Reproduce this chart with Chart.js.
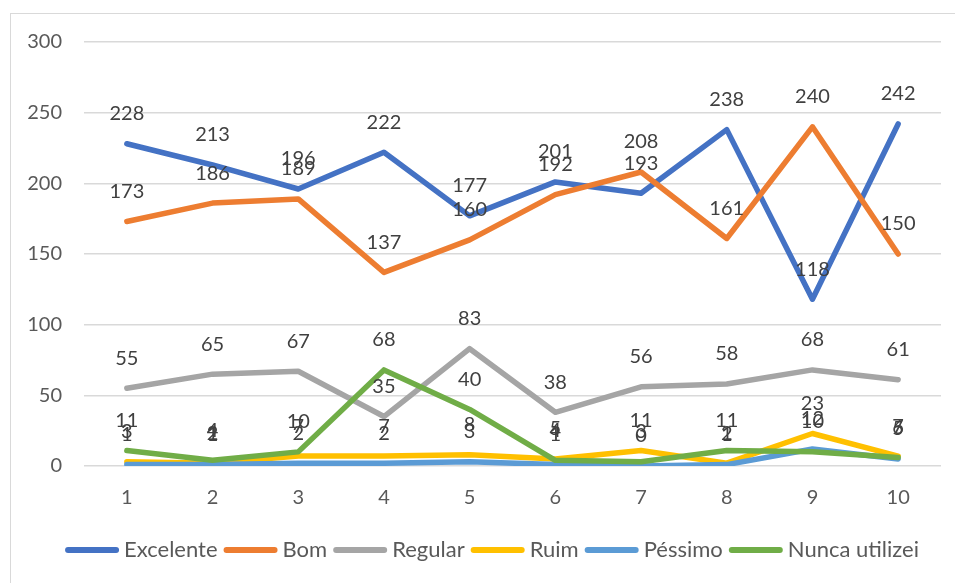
<!DOCTYPE html>
<html>
<head>
<meta charset="utf-8">
<script src="https://cdn.jsdelivr.net/npm/chart.js@4/dist/chart.umd.min.js"></script>
<style>
  html, body { margin: 0; padding: 0; background: #fff; }
  #wrap { position: relative; width: 955px; height: 583px; overflow: hidden; }
  #frame { position: absolute; left: 10px; top: 13px; width: 980px; height: 600px; border: 1px solid #d9d9d9; }
  canvas { position: absolute; left: 0; top: 0; }
</style>
</head>
<body>
<div id="wrap">
  <div id="frame"></div>
  <canvas id="chart" width="955" height="583"></canvas>
</div>
<script>
/* -------- DATA -------- */
const categories = ["1", "2", "3", "4", "5", "6", "7", "8", "9", "10"];
const excelente = [228, 213, 196, 222, 177, 201, 193, 238, 118, 242];
const bom       = [173, 186, 189, 137, 160, 192, 208, 161, 240, 150];
const regular   = [55, 65, 67, 35, 83, 38, 56, 58, 68, 61];
const ruim      = [3, 2, 7, 7, 8, 5, 11, 2, 23, 7];
const pessimo   = [1, 1, 2, 2, 3, 1, 0, 1, 12, 5];
const nunca     = [11, 4, 10, 68, 40, 4, 3, 11, 10, 6];
const yTicks    = [0, 50, 100, 150, 200, 250, 300];

const seriesNames  = ["Excelente", "Bom", "Regular", "Ruim", "Péssimo", "Nunca utilizei"];
const seriesValues = [excelente, bom, regular, ruim, pessimo, nunca];
const seriesColors = ["#4472C4", "#ED7D31", "#A5A5A5", "#FFC000", "#5B9BD5", "#70AD47"];

const FONT = "Lato, 'Open Sans', sans-serif";

/* -------- DATA LABELS (above each point) -------- */
const valueLabels = {
    id: "valueLabels",
    afterDatasetsDraw(chart) {
        const ctx = chart.ctx;
        ctx.save();
        ctx.font = "20px " + FONT;
        ctx.fillStyle = "#404040";
        ctx.textAlign = "center";
        ctx.textBaseline = "middle";
        chart.data.datasets.forEach((ds, i) => {
            const meta = chart.getDatasetMeta(i);
            meta.data.forEach((pt, j) => {
                ctx.fillText(String(ds.data[j]), pt.x, pt.y - 30);
            });
        });
        ctx.restore();
    }
};

/* -------- LEGEND (line sample right next to its text, like Excel) -------- */
const excelLegend = {
    id: "excelLegend",
    afterDraw(chart) {
        const ctx = chart.ctx;
        const lineLen = 54, gapText = 5, gapItem = 6, y = 550;
        ctx.save();
        ctx.font = "22px " + FONT;
        const items = chart.data.datasets.map(ds => ({
            ds, w: ctx.measureText(ds.label).width
        }));
        const total = items.reduce((s, it) => s + lineLen + gapText + it.w, 0) + gapItem * (items.length - 1);
        let x = 492 - total / 2;
        ctx.textBaseline = "middle";
        ctx.lineCap = "round";
        items.forEach(it => {
            ctx.strokeStyle = it.ds.borderColor;
            ctx.lineWidth = 6;
            ctx.beginPath();
            ctx.moveTo(x + 3, y);
            ctx.lineTo(x + lineLen - 3, y);
            ctx.stroke();
            x += lineLen + gapText;
            ctx.fillStyle = "#595959";
            ctx.fillText(it.ds.label, x, y);
            x += it.w + gapItem;
        });
        ctx.restore();
    }
};

const datasets = seriesNames.map((name, i) => ({
    label: name,
    data: seriesValues[i],
    borderColor: seriesColors[i],
    backgroundColor: seriesColors[i],
    borderWidth: 5.5,
    pointRadius: 0,
    tension: 0,
    borderCapStyle: "round",
    borderJoinStyle: "round",
    order: seriesNames.length - i
}));

new Chart(document.getElementById("chart"), {
    type: "line",
    data: { labels: categories, datasets },
    plugins: [valueLabels, excelLegend],
    options: {
        responsive: false,
        animation: false,
        layout: { padding: { top: 42, right: 14, left: 0, bottom: 61 } },
        scales: {
            x: {
                offset: true,
                grid: { display: false },
                border: { display: false },
                ticks: { color: "#595959", font: { family: FONT, size: 20 }, padding: 12 },
                afterFit: s => { s.height = 56; }
            },
            y: {
                min: 0,
                max: 300,
                afterBuildTicks: s => { s.ticks = yTicks.map(v => ({ value: v })); },
                grid: { color: "#d9d9d9", lineWidth: 1.5, drawTicks: false },
                border: { display: false },
                ticks: { color: "#595959", font: { family: FONT, size: 20 }, padding: 22 },
                afterFit: s => { s.width = 84; }
            }
        },
        plugins: {
            tooltip: { enabled: false },
            legend: { display: false }
        }
    }
});
</script>
</body>
</html>
